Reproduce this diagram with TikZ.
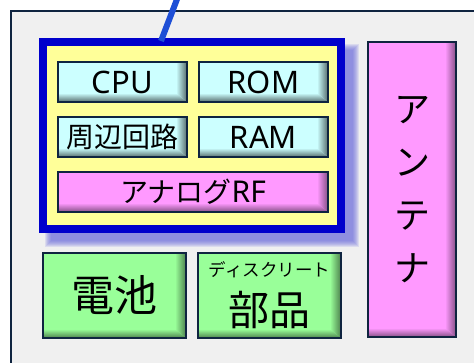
\documentclass[tikz,border=0pt]{standalone}
\usepackage{fontspec}
\newfontfamily\jp{Noto Sans CJK JP}
\newfontfamily\lat{Noto Sans}
\definecolor{panelbg}{HTML}{F0F0F0}
\definecolor{navy}{HTML}{0F2440}
\definecolor{cyanfill}{HTML}{CCFFFF}
\definecolor{pinkfill}{HTML}{FF99FF}
\definecolor{greenfill}{HTML}{99FF99}
\definecolor{chipyellow}{HTML}{FFFF99}
\definecolor{frameblue}{HTML}{0000CC}
\definecolor{lineblue}{HTML}{1E4FD6}
\definecolor{shadowblue}{RGB}{100,100,220}
\tikzset{
  inshade/.style 2 args={fill=#1, path picture={
    \coordinate (ppne) at (path picture bounding box.north east);
    \coordinate (ppse) at (path picture bounding box.south east);
    \coordinate (ppsw) at (path picture bounding box.south west);
    \shade[left color=#1, right color=#2]
      ([xshift=-11pt]ppne) -- (ppne) -- (ppse) -- ([xshift=-11pt,yshift=9pt]ppse) -- cycle;
    \shade[top color=#1, bottom color=#2]
      ([yshift=9pt]ppsw) -- ([xshift=-11pt,yshift=9pt]ppse) -- (ppse) -- (ppsw) -- cycle;
  }},
  part/.style={draw=navy, line width=2pt, inner sep=0pt, outer sep=0pt, font=\jp\fontsize{28}{32}\selectfont, text=black},
  small/.style={part, minimum width=129pt, minimum height=40pt, inshade={cyanfill}{cyanfill!42!black}},
  latin/.style={font=\lat\fontsize{31}{34}\selectfont},
}
\begin{document}
\begin{tikzpicture}[x=1pt,y=-1pt]
\useasboundingbox (0,0) rectangle (474,363);
\clip (0,0) rectangle (474,363);
% panel
\fill[panelbg] (11,11) rectangle (490,380);
\draw[navy, line width=2pt] (490,11) -- (11,11) -- (11,380);
% shadow of chip
\foreach \i in {0,...,6}
  \fill[shadowblue, opacity=0.15] (45+\i,44+\i) rectangle (359-\i,247-\i);
% chip frame
\node[draw=frameblue, line width=8pt, fill=chipyellow, minimum width=298pt, minimum height=187pt, inner sep=0pt, outer sep=0pt] (chip) at (192,135.5) {};
\node[small, latin] (cpu) at (122.5,82) {CPU};
\node[small, latin] (rom) at (263.5,82) {ROM};
\node[small] (peri) at (122.5,137) {周辺回路};
\node[small, latin] (ram) at (263.5,137) {RAM};
\node[part, inshade={pinkfill}{pinkfill!52!black}, minimum width=270pt, minimum height=40pt] (rf) at (193,192) {アナログ{\lat\fontsize{30}{34}\selectfont RF}};
% lower parts
\node[part, inshade={greenfill}{greenfill!50!black}, minimum width=143pt, minimum height=85pt, font=\jp\fontsize{43}{48}\selectfont] (bat) at (114.5,295.5) {電池};
\node[part, inshade={greenfill}{greenfill!50!black}, minimum width=143pt, minimum height=85pt] (disc) at (269.5,295.5) {};
\node[font=\jp\fontsize{17.5}{20}\selectfont, inner sep=0pt] (disctop) at ([yshift=25.5pt]disc.center) {ディスクリート};
\node[font=\jp\fontsize{41}{46}\selectfont, inner sep=0pt] (discbot) at ([yshift=-14.5pt]disc.center) {部品};
% antenna
\node[part, inshade={pinkfill}{pinkfill!52!black}, minimum width=88pt, minimum height=295pt, align=center, font=\jp\fontsize{36}{53}\selectfont] (ant) at (412,189.5) {ア\\ン\\テ\\ナ};
% connector line
\coordinate (lbot) at (161,41);
\coordinate (ltop) at (179,-6);
\draw[lineblue, line width=6pt] (lbot) -- (ltop);
\end{tikzpicture}
\end{document}
